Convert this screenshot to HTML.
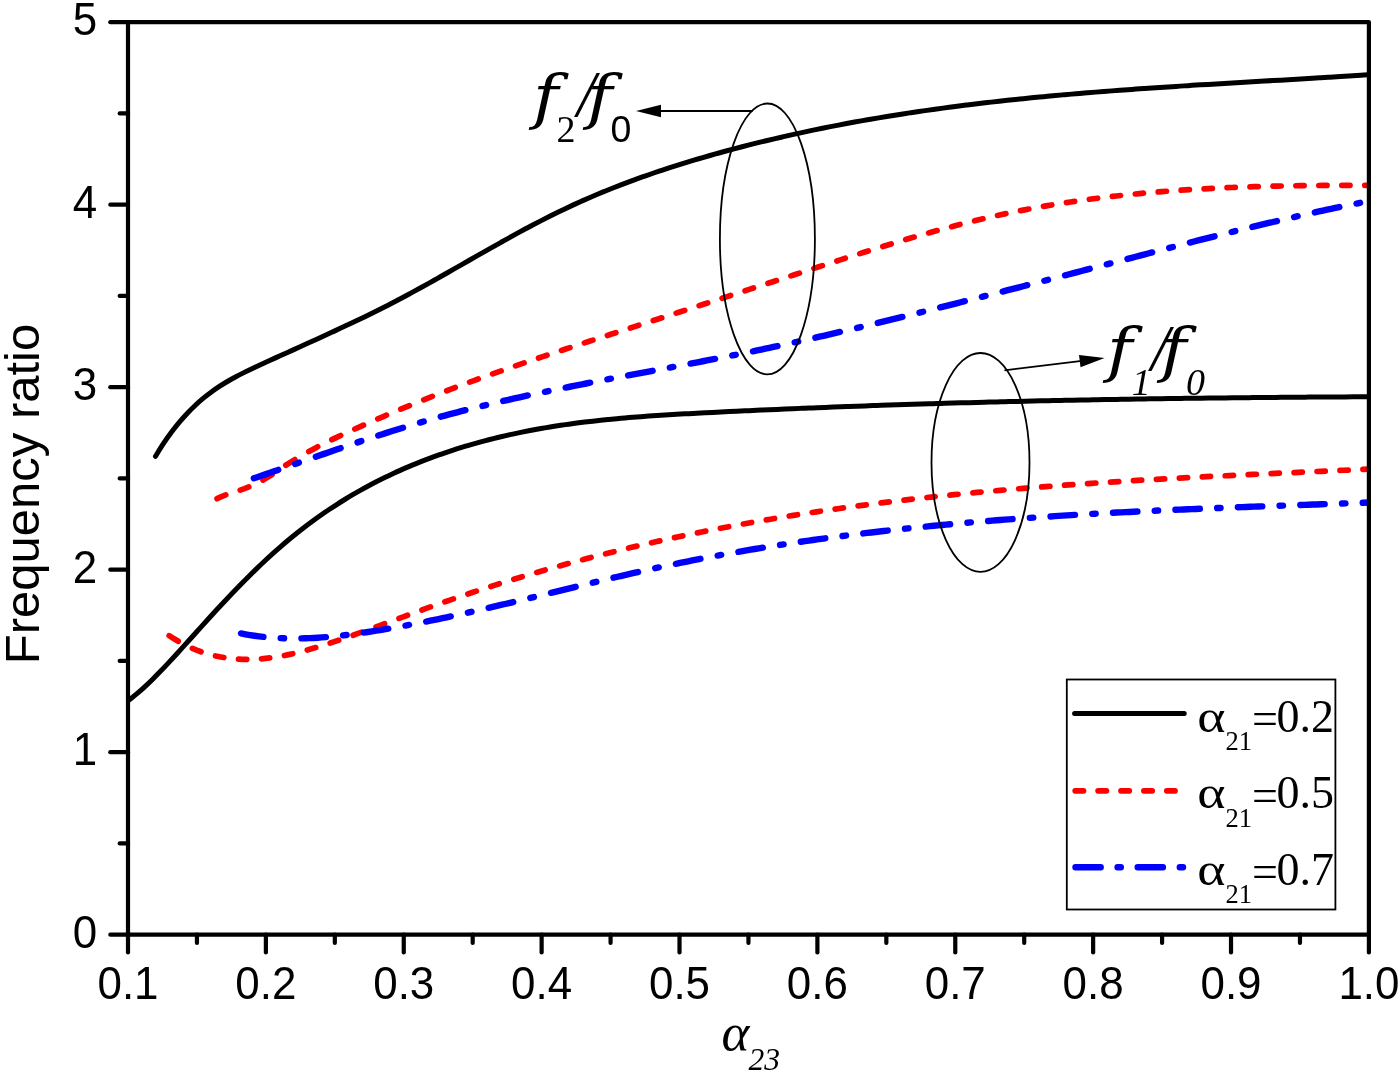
<!DOCTYPE html>
<html><head><meta charset="utf-8"><title>Frequency ratio</title>
<style>
html,body{margin:0;padding:0;background:#fff;}
svg{display:block;}
.sans{font-family:"Liberation Sans",Arial,sans-serif;}
.serif{font-family:"Liberation Serif","Times New Roman",serif;}
</style></head><body>
<svg width="1400" height="1074" viewBox="0 0 1400 1074">
<rect width="1400" height="1074" fill="#fff"/>

<clipPath id="plotclip"><rect x="128.0" y="22.2" width="1240.9" height="912.5"/></clipPath>
<g fill="none" stroke-linecap="round" stroke-linejoin="round" clip-path="url(#plotclip)">
<path d="M155.50 456.29C156.84 454.15 160.86 447.53 163.54 443.49C166.21 439.46 168.89 435.67 171.57 432.08C174.25 428.48 176.93 425.12 179.61 421.93C182.29 418.74 184.96 415.75 187.64 412.93C190.32 410.10 193.00 407.46 195.68 404.96C198.36 402.46 201.04 400.14 203.71 397.93C206.39 395.71 209.07 393.66 211.75 391.70C214.43 389.74 217.11 387.91 219.79 386.17C222.46 384.42 225.14 382.79 227.82 381.22C230.50 379.65 233.18 378.18 235.86 376.75C238.54 375.31 241.21 373.96 243.89 372.63C246.57 371.30 249.25 370.02 251.93 368.75C254.61 367.48 257.29 366.25 259.96 365.01C262.64 363.77 265.32 362.54 268.00 361.31C270.68 360.08 273.36 358.86 276.04 357.64C278.72 356.42 281.39 355.21 284.07 353.99C286.75 352.78 289.43 351.56 292.11 350.35C294.79 349.14 297.47 347.93 300.14 346.72C302.82 345.50 305.50 344.29 308.18 343.08C310.86 341.86 313.54 340.65 316.22 339.43C318.89 338.21 321.57 336.99 324.25 335.76C326.93 334.54 329.61 333.31 332.29 332.07C334.97 330.84 337.64 329.59 340.32 328.35C343.00 327.10 345.68 325.84 348.36 324.58C351.04 323.32 353.72 322.05 356.39 320.77C359.07 319.49 361.75 318.20 364.43 316.90C367.11 315.60 369.79 314.29 372.47 312.97C375.14 311.65 377.82 310.32 380.50 308.97C383.18 307.63 385.86 306.27 388.54 304.90C391.22 303.52 393.89 302.14 396.57 300.73C399.25 299.33 401.93 297.92 404.61 296.49C407.29 295.06 409.97 293.61 412.64 292.16C415.32 290.70 418.00 289.24 420.68 287.76C423.36 286.29 426.04 284.80 428.72 283.31C431.39 281.82 434.07 280.31 436.75 278.81C439.43 277.30 442.11 275.78 444.79 274.27C447.47 272.75 450.14 271.22 452.82 269.70C455.50 268.17 458.18 266.64 460.86 265.12C463.54 263.59 466.22 262.05 468.89 260.53C471.57 259.00 474.25 257.47 476.93 255.94C479.61 254.41 482.29 252.89 484.97 251.36C487.64 249.84 490.32 248.33 493.00 246.82C495.68 245.30 498.36 243.80 501.04 242.30C503.72 240.80 506.39 239.31 509.07 237.83C511.75 236.35 514.43 234.88 517.11 233.41C519.79 231.95 522.47 230.50 525.15 229.06C527.82 227.63 530.50 226.20 533.18 224.79C535.86 223.38 538.54 221.98 541.22 220.60C543.90 219.22 546.57 217.85 549.25 216.50C551.93 215.16 554.61 213.83 557.29 212.52C559.97 211.20 562.65 209.91 565.32 208.64C568.00 207.37 570.68 206.12 573.36 204.89C576.04 203.65 578.72 202.44 581.40 201.25C584.07 200.05 586.75 198.87 589.43 197.71C592.11 196.55 594.79 195.41 597.47 194.29C600.15 193.16 602.82 192.06 605.50 190.97C608.18 189.88 610.86 188.80 613.54 187.74C616.22 186.69 618.90 185.64 621.57 184.62C624.25 183.59 626.93 182.58 629.61 181.58C632.29 180.58 634.97 179.60 637.65 178.63C640.32 177.67 643.00 176.71 645.68 175.77C648.36 174.83 651.04 173.91 653.72 172.99C656.40 172.08 659.07 171.18 661.75 170.29C664.43 169.40 667.11 168.52 669.79 167.66C672.47 166.80 675.15 165.94 677.82 165.10C680.50 164.26 683.18 163.43 685.86 162.61C688.54 161.79 691.22 160.98 693.90 160.18C696.57 159.38 699.25 158.59 701.93 157.81C704.61 157.03 707.29 156.26 709.97 155.50C712.65 154.74 715.32 153.98 718.00 153.24C720.68 152.49 723.36 151.76 726.04 151.03C728.72 150.30 731.40 149.58 734.07 148.87C736.75 148.16 739.43 147.46 742.11 146.76C744.79 146.07 747.47 145.38 750.15 144.70C752.82 144.02 755.50 143.35 758.18 142.69C760.86 142.03 763.54 141.37 766.22 140.73C768.90 140.08 771.58 139.44 774.25 138.81C776.93 138.18 779.61 137.56 782.29 136.94C784.97 136.33 787.65 135.72 790.33 135.12C793.00 134.52 795.68 133.92 798.36 133.34C801.04 132.75 803.72 132.17 806.40 131.60C809.08 131.03 811.75 130.47 814.43 129.91C817.11 129.35 819.79 128.80 822.47 128.26C825.15 127.72 827.83 127.18 830.50 126.65C833.18 126.12 835.86 125.60 838.54 125.09C841.22 124.57 843.90 124.06 846.58 123.56C849.25 123.06 851.93 122.56 854.61 122.07C857.29 121.58 859.97 121.10 862.65 120.63C865.33 120.15 868.00 119.68 870.68 119.22C873.36 118.75 876.04 118.29 878.72 117.84C881.40 117.39 884.08 116.95 886.75 116.51C889.43 116.07 892.11 115.63 894.79 115.21C897.47 114.78 900.15 114.36 902.83 113.94C905.50 113.52 908.18 113.11 910.86 112.71C913.54 112.30 916.22 111.90 918.90 111.51C921.58 111.12 924.25 110.73 926.93 110.35C929.61 109.96 932.29 109.58 934.97 109.21C937.65 108.84 940.33 108.47 943.00 108.11C945.68 107.75 948.36 107.39 951.04 107.04C953.72 106.69 956.40 106.34 959.08 106.00C961.75 105.66 964.43 105.32 967.11 104.99C969.79 104.65 972.47 104.32 975.15 104.00C977.83 103.68 980.50 103.36 983.18 103.04C985.86 102.73 988.54 102.42 991.22 102.11C993.90 101.81 996.58 101.51 999.25 101.21C1001.93 100.91 1004.61 100.62 1007.29 100.33C1009.97 100.04 1012.65 99.76 1015.33 99.48C1018.01 99.20 1020.68 98.92 1023.36 98.65C1026.04 98.37 1028.72 98.10 1031.40 97.84C1034.08 97.57 1036.76 97.31 1039.43 97.05C1042.11 96.80 1044.79 96.54 1047.47 96.29C1050.15 96.04 1052.83 95.79 1055.51 95.55C1058.18 95.30 1060.86 95.06 1063.54 94.83C1066.22 94.59 1068.90 94.35 1071.58 94.12C1074.26 93.89 1076.93 93.66 1079.61 93.44C1082.29 93.21 1084.97 92.99 1087.65 92.77C1090.33 92.55 1093.01 92.33 1095.68 92.12C1098.36 91.90 1101.04 91.69 1103.72 91.49C1106.40 91.28 1109.08 91.07 1111.76 90.87C1114.43 90.66 1117.11 90.46 1119.79 90.26C1122.47 90.06 1125.15 89.87 1127.83 89.67C1130.51 89.48 1133.18 89.29 1135.86 89.10C1138.54 88.91 1141.22 88.72 1143.90 88.53C1146.58 88.35 1149.26 88.16 1151.93 87.98C1154.61 87.80 1157.29 87.62 1159.97 87.44C1162.65 87.26 1165.33 87.08 1168.01 86.91C1170.68 86.73 1173.36 86.56 1176.04 86.39C1178.72 86.22 1181.40 86.04 1184.08 85.87C1186.76 85.71 1189.43 85.54 1192.11 85.37C1194.79 85.20 1197.47 85.04 1200.15 84.87C1202.83 84.71 1205.51 84.54 1208.18 84.38C1210.86 84.22 1213.54 84.06 1216.22 83.90C1218.90 83.74 1221.58 83.58 1224.26 83.42C1226.93 83.26 1229.61 83.10 1232.29 82.94C1234.97 82.78 1237.65 82.63 1240.33 82.47C1243.01 82.31 1245.68 82.16 1248.36 82.00C1251.04 81.84 1253.72 81.69 1256.40 81.53C1259.08 81.38 1261.76 81.22 1264.44 81.07C1267.11 80.91 1269.79 80.76 1272.47 80.60C1275.15 80.45 1277.83 80.29 1280.51 80.13C1283.19 79.98 1285.86 79.82 1288.54 79.67C1291.22 79.51 1293.90 79.36 1296.58 79.20C1299.26 79.04 1301.94 78.89 1304.61 78.73C1307.29 78.57 1309.97 78.41 1312.65 78.25C1315.33 78.10 1318.01 77.94 1320.69 77.78C1323.36 77.62 1326.04 77.45 1328.72 77.29C1331.40 77.13 1334.08 76.97 1336.76 76.80C1339.44 76.64 1342.11 76.48 1344.79 76.31C1347.47 76.14 1350.15 75.98 1352.83 75.81C1355.51 75.64 1358.19 75.47 1360.86 75.30C1363.54 75.13 1367.56 74.87 1368.90 74.78" stroke="#000" stroke-width="5.0"/>
<path d="M128.70 700.31C130.03 699.24 134.03 696.15 136.70 693.91C139.37 691.66 142.04 689.29 144.70 686.83C147.37 684.38 150.04 681.82 152.70 679.19C155.37 676.57 158.04 673.85 160.71 671.10C163.37 668.34 166.04 665.50 168.71 662.64C171.37 659.79 174.04 656.87 176.71 653.95C179.37 651.02 182.04 648.06 184.71 645.11C187.38 642.15 190.04 639.18 192.71 636.22C195.38 633.26 198.04 630.29 200.71 627.33C203.38 624.38 206.05 621.43 208.71 618.50C211.38 615.58 214.05 612.66 216.71 609.77C219.38 606.89 222.05 604.02 224.72 601.18C227.38 598.35 230.05 595.53 232.72 592.75C235.38 589.97 238.05 587.22 240.72 584.50C243.39 581.79 246.05 579.10 248.72 576.45C251.39 573.80 254.05 571.19 256.72 568.62C259.39 566.04 262.05 563.51 264.72 561.01C267.39 558.52 270.06 556.07 272.72 553.66C275.39 551.26 278.06 548.89 280.72 546.58C283.39 544.27 286.06 542.00 288.73 539.78C291.39 537.56 294.06 535.39 296.73 533.26C299.39 531.13 302.06 529.04 304.73 527.00C307.40 524.96 310.06 522.97 312.73 521.01C315.40 519.06 318.06 517.15 320.73 515.27C323.40 513.40 326.07 511.57 328.73 509.78C331.40 507.99 334.07 506.24 336.73 504.53C339.40 502.82 342.07 501.14 344.73 499.50C347.40 497.87 350.07 496.27 352.74 494.70C355.40 493.14 358.07 491.61 360.74 490.11C363.40 488.62 366.07 487.16 368.74 485.73C371.41 484.30 374.07 482.91 376.74 481.55C379.41 480.18 382.07 478.85 384.74 477.55C387.41 476.25 390.08 474.98 392.74 473.74C395.41 472.50 398.08 471.29 400.74 470.11C403.41 468.92 406.08 467.77 408.75 466.64C411.41 465.51 414.08 464.40 416.75 463.33C419.41 462.25 422.08 461.19 424.75 460.17C427.41 459.14 430.08 458.13 432.75 457.15C435.42 456.17 438.08 455.21 440.75 454.27C443.42 453.34 446.08 452.43 448.75 451.53C451.42 450.64 454.09 449.78 456.75 448.93C459.42 448.08 462.09 447.25 464.75 446.45C467.42 445.64 470.09 444.86 472.76 444.10C475.42 443.33 478.09 442.59 480.76 441.86C483.42 441.14 486.09 440.43 488.76 439.75C491.43 439.06 494.09 438.40 496.76 437.75C499.43 437.10 502.09 436.47 504.76 435.85C507.43 435.24 510.09 434.65 512.76 434.07C515.43 433.49 518.10 432.93 520.76 432.38C523.43 431.84 526.10 431.31 528.76 430.79C531.43 430.28 534.10 429.78 536.77 429.30C539.43 428.82 542.10 428.35 544.77 427.90C547.43 427.44 550.10 427.00 552.77 426.58C555.44 426.15 558.10 425.74 560.77 425.34C563.44 424.94 566.10 424.56 568.77 424.19C571.44 423.81 574.11 423.45 576.77 423.10C579.44 422.76 582.11 422.42 584.77 422.09C587.44 421.77 590.11 421.45 592.77 421.15C595.44 420.84 598.11 420.55 600.78 420.27C603.44 419.98 606.11 419.71 608.78 419.45C611.44 419.18 614.11 418.93 616.78 418.68C619.45 418.43 622.11 418.19 624.78 417.96C627.45 417.73 630.11 417.51 632.78 417.30C635.45 417.08 638.12 416.87 640.78 416.67C643.45 416.47 646.12 416.28 648.78 416.09C651.45 415.90 654.12 415.72 656.79 415.54C659.45 415.36 662.12 415.19 664.79 415.02C667.45 414.86 670.12 414.70 672.79 414.54C675.45 414.38 678.12 414.22 680.79 414.07C683.46 413.92 686.12 413.78 688.79 413.63C691.46 413.49 694.12 413.35 696.79 413.21C699.46 413.07 702.13 412.93 704.79 412.79C707.46 412.66 710.13 412.52 712.79 412.39C715.46 412.26 718.13 412.12 720.80 411.99C723.46 411.86 726.13 411.73 728.80 411.60C731.46 411.47 734.13 411.35 736.80 411.22C739.47 411.09 742.13 410.97 744.80 410.84C747.47 410.72 750.13 410.59 752.80 410.47C755.47 410.35 758.13 410.23 760.80 410.10C763.47 409.98 766.14 409.86 768.80 409.75C771.47 409.63 774.14 409.51 776.80 409.39C779.47 409.28 782.14 409.16 784.81 409.05C787.47 408.93 790.14 408.82 792.81 408.71C795.47 408.59 798.14 408.48 800.81 408.37C803.48 408.26 806.14 408.15 808.81 408.04C811.48 407.93 814.14 407.83 816.81 407.72C819.48 407.61 822.15 407.51 824.81 407.40C827.48 407.30 830.15 407.19 832.81 407.09C835.48 406.99 838.15 406.89 840.81 406.79C843.48 406.68 846.15 406.59 848.82 406.49C851.48 406.39 854.15 406.29 856.82 406.19C859.48 406.09 862.15 406.00 864.82 405.90C867.49 405.81 870.15 405.71 872.82 405.62C875.49 405.53 878.15 405.43 880.82 405.34C883.49 405.25 886.16 405.16 888.82 405.07C891.49 404.98 894.16 404.89 896.82 404.80C899.49 404.72 902.16 404.63 904.83 404.54C907.49 404.46 910.16 404.37 912.83 404.29C915.49 404.20 918.16 404.12 920.83 404.04C923.49 403.95 926.16 403.87 928.83 403.79C931.50 403.71 934.16 403.63 936.83 403.55C939.50 403.47 942.16 403.39 944.83 403.31C947.50 403.24 950.17 403.16 952.83 403.08C955.50 403.01 958.17 402.93 960.83 402.86C963.50 402.78 966.17 402.71 968.84 402.64C971.50 402.57 974.17 402.49 976.84 402.42C979.50 402.35 982.17 402.28 984.84 402.21C987.51 402.14 990.17 402.07 992.84 402.01C995.51 401.94 998.17 401.87 1000.84 401.80C1003.51 401.74 1006.17 401.67 1008.84 401.61C1011.51 401.54 1014.18 401.48 1016.84 401.42C1019.51 401.35 1022.18 401.29 1024.84 401.23C1027.51 401.17 1030.18 401.11 1032.85 401.05C1035.51 400.99 1038.18 400.93 1040.85 400.87C1043.51 400.81 1046.18 400.75 1048.85 400.69C1051.52 400.64 1054.18 400.58 1056.85 400.52C1059.52 400.47 1062.18 400.41 1064.85 400.36C1067.52 400.30 1070.19 400.25 1072.85 400.20C1075.52 400.14 1078.19 400.09 1080.85 400.04C1083.52 399.99 1086.19 399.94 1088.85 399.89C1091.52 399.84 1094.19 399.79 1096.86 399.74C1099.52 399.69 1102.19 399.64 1104.86 399.59C1107.52 399.55 1110.19 399.50 1112.86 399.45C1115.53 399.41 1118.19 399.36 1120.86 399.32C1123.53 399.27 1126.19 399.23 1128.86 399.18C1131.53 399.14 1134.20 399.10 1136.86 399.05C1139.53 399.01 1142.20 398.97 1144.86 398.93C1147.53 398.89 1150.20 398.85 1152.87 398.81C1155.53 398.77 1158.20 398.73 1160.87 398.69C1163.53 398.65 1166.20 398.61 1168.87 398.58C1171.53 398.54 1174.20 398.50 1176.87 398.47C1179.54 398.43 1182.20 398.39 1184.87 398.36C1187.54 398.32 1190.20 398.29 1192.87 398.26C1195.54 398.22 1198.21 398.19 1200.87 398.16C1203.54 398.12 1206.21 398.09 1208.87 398.06C1211.54 398.03 1214.21 398.00 1216.88 397.97C1219.54 397.94 1222.21 397.91 1224.88 397.88C1227.54 397.85 1230.21 397.82 1232.88 397.79C1235.55 397.76 1238.21 397.73 1240.88 397.71C1243.55 397.68 1246.21 397.65 1248.88 397.63C1251.55 397.60 1254.21 397.57 1256.88 397.55C1259.55 397.52 1262.22 397.50 1264.88 397.47C1267.55 397.45 1270.22 397.43 1272.88 397.40C1275.55 397.38 1278.22 397.36 1280.89 397.33C1283.55 397.31 1286.22 397.29 1288.89 397.27C1291.55 397.25 1294.22 397.23 1296.89 397.21C1299.56 397.19 1302.22 397.17 1304.89 397.15C1307.56 397.13 1310.22 397.11 1312.89 397.09C1315.56 397.07 1318.23 397.05 1320.89 397.03C1323.56 397.02 1326.23 397.00 1328.89 396.98C1331.56 396.97 1334.23 396.95 1336.89 396.93C1339.56 396.92 1342.23 396.90 1344.90 396.89C1347.56 396.87 1350.23 396.86 1352.90 396.84C1355.56 396.83 1358.23 396.81 1360.90 396.80C1363.57 396.79 1367.57 396.77 1368.90 396.76" stroke="#000" stroke-width="5.0"/>
<path d="M217.06 498.70L221.41 496.70L225.76 494.97M240.20 490.07L244.49 488.57L248.78 486.92M262.96 480.09L267.47 477.42L271.99 474.49M285.77 465.24L290.31 462.37L294.84 459.59M308.83 451.54L313.26 449.13L317.70 446.79M331.84 439.69L336.22 437.59L340.60 435.52M354.83 429.01L359.18 427.07L363.52 425.14M377.79 418.90L382.12 417.03L386.46 415.18M400.76 409.15L405.07 407.36L409.39 405.58M423.72 399.78L428.02 398.06L432.32 396.36M446.68 390.77L450.97 389.13L455.25 387.51M469.64 382.14L473.91 380.57L478.19 379.02M492.60 373.84L496.86 372.34L501.12 370.84M515.56 365.83L519.81 364.37L524.06 362.92M538.51 358.04L542.76 356.62L547.00 355.20M561.46 350.42L565.70 349.02L569.95 347.63M584.41 342.91L588.65 341.53L592.89 340.15M607.36 335.46L611.60 334.08L615.84 332.71M630.31 328.02L634.55 326.64L638.79 325.27M653.25 320.57L657.49 319.20L661.73 317.82M676.20 313.13L680.44 311.75L684.68 310.38M699.15 305.68L703.39 304.30L707.63 302.93M722.09 298.23L726.33 296.85L730.57 295.47M745.04 290.77L749.28 289.39L753.52 288.02M767.99 283.31L772.23 281.94L776.47 280.56M790.94 275.86L795.18 274.48L799.41 273.10M813.88 268.40L818.12 267.02L822.36 265.65M836.83 260.98L841.07 259.61L845.30 258.26M859.78 253.65L864.01 252.32L868.25 250.99M882.74 246.50L886.96 245.21L891.18 243.92M905.69 239.57L909.91 238.33L914.12 237.10M928.65 232.94L932.85 231.77L937.06 230.60M951.61 226.67L955.80 225.57L959.99 224.49M974.57 220.83L978.75 219.81L982.93 218.82M997.53 215.47L1001.69 214.56L1005.86 213.66M1020.49 210.66L1024.64 209.84L1028.79 209.05M1043.45 206.38L1047.59 205.66L1051.73 204.96M1066.40 202.60L1070.54 201.97L1074.67 201.36M1089.36 199.30L1093.48 198.75L1097.61 198.22M1112.31 196.43L1116.43 195.96L1120.55 195.51M1135.27 193.98L1139.38 193.58L1143.49 193.20M1158.22 191.91L1162.33 191.58L1166.44 191.25M1181.17 190.19L1185.27 189.91L1189.38 189.65M1204.12 188.79L1208.22 188.57L1212.32 188.36M1227.07 187.67L1231.17 187.50L1235.27 187.34M1250.01 186.82L1254.11 186.69L1258.22 186.57M1272.96 186.19L1277.06 186.10L1281.16 186.01M1295.91 185.76L1300.01 185.70L1304.11 185.64M1318.86 185.49L1322.96 185.46L1327.06 185.43M1341.80 185.36L1345.90 185.35L1350.00 185.34M1364.75 185.34L1368.90 185.34" stroke="#ff0000" stroke-width="5.7"/>
<path d="M169.19 635.66L173.72 638.56L178.25 641.25M192.39 648.34L196.69 650.11L200.99 651.71M215.51 655.93L219.66 656.82L223.82 657.57M238.53 659.18L242.64 659.36L246.74 659.43M261.48 658.81L265.60 658.41L269.72 657.93M284.39 655.51L288.55 654.66L292.71 653.73M307.28 650.00L311.50 648.81L315.71 647.57M330.19 643.01L334.44 641.61L338.68 640.18M353.12 635.19L357.38 633.68L361.65 632.15M376.05 626.92L380.32 625.34L384.60 623.76M398.99 618.43L403.27 616.84L407.55 615.26M421.94 609.98L426.21 608.43L430.48 606.89M444.90 601.79L449.16 600.32L453.42 598.85M467.86 593.96L472.11 592.55L476.35 591.15M490.82 586.46L495.05 585.11L499.29 583.78M513.78 579.29L518.00 578.00L522.22 576.73M536.74 572.44L540.95 571.22L545.16 570.00M559.69 565.90L563.90 564.74L568.10 563.59M582.65 559.67L586.84 558.57L591.04 557.47M605.61 553.74L609.79 552.69L613.98 551.65M628.56 548.10L632.74 547.10L636.91 546.12M651.52 542.74L655.68 541.80L659.85 540.86M674.47 537.65L678.63 536.76L682.79 535.88M697.42 532.84L701.58 531.99L705.74 531.15M720.38 528.27L724.53 527.48L728.68 526.69M743.33 523.96L747.47 523.21L751.62 522.47M766.28 519.90L770.42 519.19L774.56 518.49M789.23 516.06L793.37 515.39L797.50 514.74M812.18 512.45L816.31 511.83L820.45 511.21M835.13 509.07L839.26 508.48L843.39 507.90M858.08 505.89L862.21 505.34L866.33 504.80M881.03 502.91L885.16 502.40L889.28 501.89M903.98 500.13L908.10 499.65L912.22 499.18M926.93 497.53L931.05 497.08L935.17 496.64M949.88 495.10L954.00 494.68L958.11 494.27M972.83 492.83L976.94 492.44L981.06 492.06M995.78 490.72L999.89 490.36L1004.00 490.00M1018.73 488.75L1022.84 488.41L1026.95 488.07M1041.68 486.91L1045.79 486.59L1049.89 486.28M1064.63 485.19L1068.73 484.89L1072.84 484.60M1087.57 483.58L1091.68 483.31L1095.79 483.03M1110.52 482.08L1114.63 481.82L1118.73 481.56M1133.47 480.67L1137.57 480.42L1141.68 480.18M1156.42 479.34L1160.52 479.11L1164.63 478.88M1179.36 478.08L1183.47 477.86L1187.57 477.65M1202.31 476.89L1206.41 476.68L1210.52 476.47M1225.26 475.74L1229.36 475.54L1233.47 475.34M1248.21 474.64L1252.31 474.45L1256.41 474.26M1271.15 473.57L1275.26 473.38L1279.36 473.20M1294.10 472.53L1298.20 472.34L1302.31 472.16M1317.05 471.49L1321.15 471.31L1325.25 471.12M1339.99 470.46L1344.10 470.27L1348.20 470.09M1362.94 469.42L1368.90 469.15" stroke="#ff0000" stroke-width="5.7"/>
<path d="M253.83 478.32L257.88 476.93L261.94 475.53L266.00 474.13L270.05 472.72L274.11 471.31L278.16 469.90M295.12 463.97L298.88 462.66M315.84 456.73L319.96 455.29L324.09 453.86L328.21 452.43L332.34 451.00L336.46 449.58L340.59 448.16M357.56 442.40L361.29 441.14M378.29 435.53L382.40 434.20L386.52 432.88L390.64 431.57L394.75 430.27L398.87 428.98L402.98 427.71M420.03 422.58L423.68 421.51M440.76 416.69L444.86 415.57L448.96 414.46L453.07 413.37L457.17 412.29L461.27 411.22L465.37 410.16M482.50 405.89L486.08 405.02M503.22 400.98L507.31 400.04L511.41 399.12L515.50 398.20L519.59 397.29L523.68 396.38L527.78 395.49M544.95 391.82L548.49 391.09M565.67 387.56L569.76 386.74L573.85 385.92L577.93 385.11L582.02 384.30L586.11 383.50L590.19 382.70M607.39 379.37L610.91 378.70M628.11 375.42L632.19 374.65L636.28 373.88L640.36 373.11L644.45 372.34L648.54 371.57L652.62 370.80M669.82 367.55L673.34 366.88M690.54 363.61L694.62 362.83L698.71 362.05L702.80 361.26L706.88 360.47L710.97 359.67L715.05 358.88M732.25 355.48L735.77 354.77M752.96 351.27L757.05 350.42L761.14 349.56L765.23 348.70L769.32 347.84L773.41 346.96L777.50 346.08M794.66 342.33L798.22 341.54M815.38 337.67L819.47 336.74L823.56 335.80L827.66 334.85L831.75 333.90L835.85 332.95L839.94 331.99M857.08 327.93L860.66 327.07M877.79 322.93L881.89 321.94L885.99 320.93L890.09 319.93L894.18 318.92L898.28 317.91L902.38 316.90M919.50 312.64L923.10 311.74M940.22 307.43L944.32 306.40L948.42 305.36L952.52 304.32L956.62 303.29L960.71 302.24L964.81 301.20M981.93 296.84L985.53 295.92M1002.64 291.53L1006.74 290.47L1010.85 289.41L1014.95 288.36L1019.05 287.30L1023.15 286.24L1027.25 285.17M1044.36 280.73L1047.96 279.79M1065.07 275.32L1069.17 274.25L1073.27 273.17L1077.38 272.09L1081.48 271.02L1085.58 269.94L1089.68 268.86M1106.78 264.34L1110.40 263.39M1127.50 258.88L1131.60 257.80L1135.70 256.72L1139.80 255.64L1143.91 254.56L1148.01 253.48L1152.11 252.41M1169.22 247.94L1172.82 247.00M1189.93 242.57L1194.03 241.52L1198.13 240.47L1202.23 239.42L1206.33 238.37L1210.43 237.33L1214.53 236.29M1231.65 232.00L1235.24 231.11M1252.37 226.90L1256.47 225.91L1260.57 224.92L1264.66 223.94L1268.76 222.96L1272.85 221.99L1276.95 221.02M1294.10 217.04L1297.66 216.23M1314.82 212.38L1318.91 211.48L1323.00 210.59L1327.09 209.70L1331.18 208.82L1335.27 207.95L1339.36 207.09M1356.55 203.56L1360.07 202.85" stroke="#0000ff" stroke-width="6.4"/>
<path d="M241.03 633.42L245.50 634.27L249.98 635.04L254.45 635.72L258.93 636.32L263.40 636.84M280.70 638.14L284.10 638.28M301.41 638.38L305.48 638.27L309.55 638.12L313.62 637.93L317.69 637.69L321.76 637.41L325.83 637.10M343.11 635.37L346.56 634.95M363.81 632.61L367.89 631.99L371.97 631.36L376.05 630.71L380.13 630.05L384.21 629.37L388.29 628.67M405.51 625.58L409.02 624.92M426.21 621.56L430.30 620.73L434.39 619.89L438.48 619.04L442.57 618.17L446.66 617.30L450.75 616.42M467.91 612.63L471.47 611.82M488.62 607.87L492.72 606.92L496.81 605.95L500.91 604.98L505.00 604.01L509.10 603.03L513.19 602.04M530.33 597.90L533.91 597.02M551.04 592.83L555.14 591.83L559.24 590.83L563.33 589.82L567.43 588.82L571.53 587.82L575.63 586.82M592.76 582.66L596.34 581.80M613.48 577.71L617.57 576.74L621.67 575.79L625.76 574.83L629.86 573.89L633.95 572.95L638.04 572.02M655.21 568.19L658.75 567.42M675.93 563.77L680.01 562.93L684.10 562.10L688.19 561.27L692.28 560.45L696.37 559.65L700.45 558.85M717.66 555.58L721.16 554.93M738.38 551.83L742.46 551.12L746.54 550.42L750.62 549.72L754.70 549.03L758.78 548.35L762.87 547.68M780.10 544.92L783.58 544.39M800.82 541.79L804.90 541.19L808.97 540.61L813.05 540.02L817.13 539.45L821.21 538.88L825.28 538.32M842.54 536.03L846.00 535.58M863.26 533.43L867.34 532.94L871.41 532.45L875.48 531.97L879.56 531.50L883.63 531.03L887.70 530.57M904.98 528.68L908.42 528.32M925.70 526.56L929.77 526.15L933.84 525.76L937.91 525.37L941.99 524.98L946.06 524.60L950.13 524.22M967.42 522.69L970.84 522.39M988.13 520.96L992.20 520.63L996.27 520.31L1000.34 520.00L1004.41 519.68L1008.48 519.38L1012.55 519.07M1029.85 517.83L1033.27 517.59M1050.57 516.44L1054.64 516.17L1058.71 515.92L1062.77 515.66L1066.84 515.41L1070.91 515.16L1074.98 514.92M1092.28 513.91L1095.69 513.72M1113.00 512.79L1117.07 512.57L1121.14 512.36L1125.20 512.16L1129.27 511.95L1133.34 511.75L1137.41 511.55M1154.72 510.73L1158.12 510.57M1175.43 509.80L1179.50 509.62L1183.57 509.45L1187.63 509.27L1191.70 509.10L1195.77 508.93L1199.84 508.77M1217.15 508.07L1220.55 507.94M1237.86 507.27L1241.93 507.12L1246.00 506.97L1250.06 506.82L1254.13 506.66L1258.20 506.52L1262.27 506.37M1279.58 505.74L1282.98 505.62M1300.29 505.00L1304.36 504.86L1308.43 504.72L1312.49 504.57L1316.56 504.43L1320.63 504.29L1324.70 504.14M1342.01 503.53L1345.41 503.41M1362.72 502.79L1368.90 502.56" stroke="#0000ff" stroke-width="6.4"/>
</g>
<g stroke="#000" stroke-width="4.2" stroke-linecap="round" fill="none">
<path d="M128.0 22.2H1368.9V934.7H128.0Z" stroke-linejoin="round"/>
<path d="M128.00 934.7v17.7"/>
<path d="M196.94 934.7v8.3"/>
<path d="M265.88 934.7v17.7"/>
<path d="M334.82 934.7v8.3"/>
<path d="M403.76 934.7v17.7"/>
<path d="M472.69 934.7v8.3"/>
<path d="M541.63 934.7v17.7"/>
<path d="M610.57 934.7v8.3"/>
<path d="M679.51 934.7v17.7"/>
<path d="M748.45 934.7v8.3"/>
<path d="M817.39 934.7v17.7"/>
<path d="M886.33 934.7v8.3"/>
<path d="M955.27 934.7v17.7"/>
<path d="M1024.21 934.7v8.3"/>
<path d="M1093.14 934.7v17.7"/>
<path d="M1162.08 934.7v8.3"/>
<path d="M1231.02 934.7v17.7"/>
<path d="M1299.96 934.7v8.3"/>
<path d="M1368.90 934.7v17.7"/>
<path d="M128.0 934.70h-17.7"/>
<path d="M128.0 843.45h-8.3"/>
<path d="M128.0 752.20h-17.7"/>
<path d="M128.0 660.95h-8.3"/>
<path d="M128.0 569.70h-17.7"/>
<path d="M128.0 478.45h-8.3"/>
<path d="M128.0 387.20h-17.7"/>
<path d="M128.0 295.95h-8.3"/>
<path d="M128.0 204.70h-17.7"/>
<path d="M128.0 113.45h-8.3"/>
<path d="M128.0 22.20h-17.7"/>
</g>
<g class="sans" font-size="45.5" fill="#000">
<text text-anchor="middle" transform="translate(128.00 998.7) scale(0.965 1)">0.1</text>
<text text-anchor="middle" transform="translate(265.88 998.7) scale(0.965 1)">0.2</text>
<text text-anchor="middle" transform="translate(403.76 998.7) scale(0.965 1)">0.3</text>
<text text-anchor="middle" transform="translate(541.63 998.7) scale(0.965 1)">0.4</text>
<text text-anchor="middle" transform="translate(679.51 998.7) scale(0.965 1)">0.5</text>
<text text-anchor="middle" transform="translate(817.39 998.7) scale(0.965 1)">0.6</text>
<text text-anchor="middle" transform="translate(955.27 998.7) scale(0.965 1)">0.7</text>
<text text-anchor="middle" transform="translate(1093.14 998.7) scale(0.965 1)">0.8</text>
<text text-anchor="middle" transform="translate(1231.02 998.7) scale(0.965 1)">0.9</text>
<text text-anchor="middle" transform="translate(1368.90 998.7) scale(0.965 1)">1.0</text>
<text text-anchor="end" transform="translate(97.2 947.90) scale(0.965 1)">0</text>
<text text-anchor="end" transform="translate(97.2 765.40) scale(0.965 1)">1</text>
<text text-anchor="end" transform="translate(97.2 582.90) scale(0.965 1)">2</text>
<text text-anchor="end" transform="translate(97.2 400.40) scale(0.965 1)">3</text>
<text text-anchor="end" transform="translate(97.2 217.90) scale(0.965 1)">4</text>
<text text-anchor="end" transform="translate(97.2 35.40) scale(0.965 1)">5</text>
</g>
<text class="sans" font-size="49" text-anchor="middle" transform="translate(39 494) rotate(-90)">Frequency ratio</text>
<text class="serif" font-style="italic" font-size="53"><tspan x="721.5" y="1049.7">α</tspan><tspan font-size="31.5" x="748.5" y="1070">23</tspan></text>
<g fill="none" stroke="#000" stroke-width="1.8">
<ellipse cx="767.4" cy="238.9" rx="47.5" ry="135.4"/>
<ellipse cx="980.5" cy="462.4" rx="49" ry="109.4"/>
<path d="M752.5 111H655"/>
<path d="M1004.4 370.3L1086 360.4"/>
</g>
<path d="M636 111l25 -6.2v12.4z" fill="#000"/>
<path d="M1104.6 358.1L1079.03 354.97L1080.53 367.28z" fill="#000"/>
<text font-family="DejaVu Serif, Liberation Serif, serif" font-style="italic" font-size="60" fill="#000" transform="translate(533 117.5) scale(1.15 1)">f</text>
<text font-family="DejaVu Serif, Liberation Serif, serif" font-style="italic" font-size="60" fill="#000" transform="translate(587 117.5) scale(1.15 1)">f</text>
<text class="serif" font-style="italic" fill="#000"><tspan font-style="normal" font-size="38" x="556.5" y="141.5">2</tspan><tspan font-size="65" x="577" y="116">/</tspan><tspan class="sans" font-style="normal" font-size="37.5" x="610.5" y="141.5">0</tspan></text>
<text font-family="DejaVu Serif, Liberation Serif, serif" font-style="italic" font-size="60" fill="#000" transform="translate(1107 370.7) scale(1.15 1)">f</text>
<text font-family="DejaVu Serif, Liberation Serif, serif" font-style="italic" font-size="60" fill="#000" transform="translate(1161 370.7) scale(1.15 1)">f</text>
<text class="serif" font-style="italic" fill="#000"><tspan font-style="italic" font-size="38" x="1131.7" y="395">1</tspan><tspan font-size="65" x="1151" y="370">/</tspan><tspan font-style="italic" font-size="38" x="1186" y="395">0</tspan></text>
<rect x="1066.8" y="679.5" width="268.6" height="230" fill="#fff" stroke="#000" stroke-width="1.8"/>
<g fill="none" stroke-linecap="round">
<path d="M1074.6 713.6H1184.2" stroke="#000" stroke-width="5.0"/>
<path d="M1075.2 790.8H1175" stroke="#ff0000" stroke-width="5.7" stroke-dasharray="8.3 14.6"/>
<path d="M1075.5 867.3H1185" stroke="#0000ff" stroke-width="6.4" stroke-dasharray="25.2 16.9 3.2 16.9"/>
</g>
<text class="serif" font-size="46" transform="translate(1197.3 731.50) scale(1.17 1)">α</text>
<text class="serif" font-size="46"><tspan font-size="26.5" x="1225.5" y="749.70">21</tspan><tspan x="1252" y="733.80">=</tspan><tspan x="1276.6" y="731.50">0.2</tspan></text>
<text class="serif" font-size="46" transform="translate(1197.3 808.30) scale(1.17 1)">α</text>
<text class="serif" font-size="46"><tspan font-size="26.5" x="1225.5" y="826.50">21</tspan><tspan x="1252" y="810.60">=</tspan><tspan x="1276.6" y="808.30">0.5</tspan></text>
<text class="serif" font-size="46" transform="translate(1197.3 885.10) scale(1.17 1)">α</text>
<text class="serif" font-size="46"><tspan font-size="26.5" x="1225.5" y="903.30">21</tspan><tspan x="1252" y="887.40">=</tspan><tspan x="1276.6" y="885.10">0.7</tspan></text>
</svg></body></html>
